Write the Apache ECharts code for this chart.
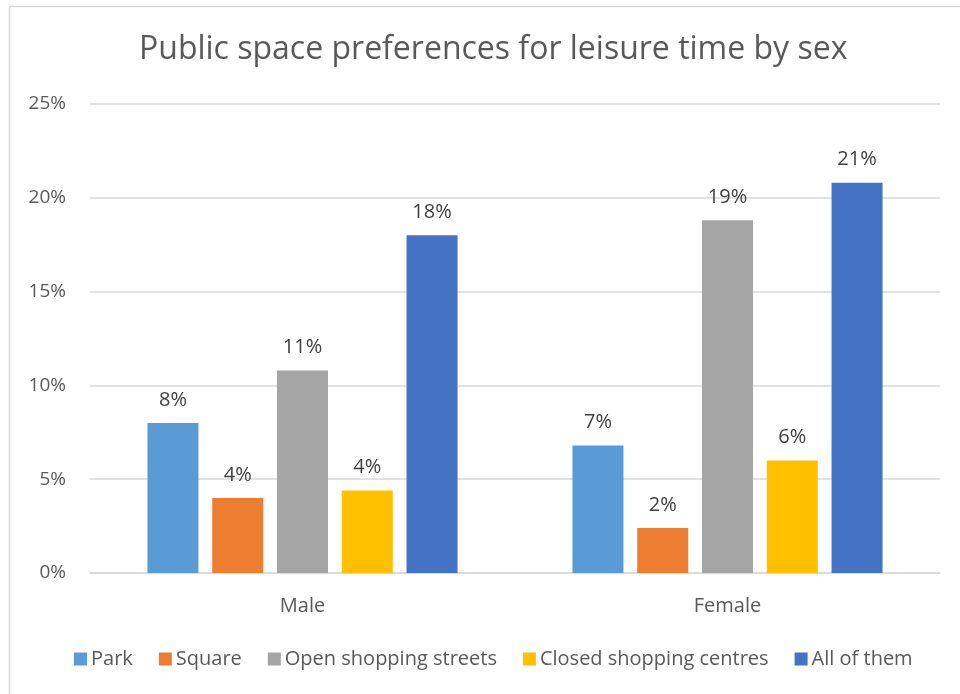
<!DOCTYPE html>
<html>
<head>
<meta charset="utf-8">
<script src="https://cdn.jsdelivr.net/npm/echarts@6/dist/echarts.min.js"></script>
<style>
  html, body { margin: 0; padding: 0; background: #ffffff; }
  #chart { width: 960px; height: 694px; }
</style>
</head>
<body>
<div id="chart"></div>
<script>
// Categories (sex) and the share of respondents per preferred public space, in percent
const categories = ['Male', 'Female'];
const seriesNames = ['Park', 'Square', 'Open shopping streets', 'Closed shopping centres', 'All of them'];
const park = [8.0, 6.8];
const square = [4.0, 2.4];
const openStreets = [10.8, 18.8];
const closedCentres = [4.4, 6.0];
const allOfThem = [18.0, 20.8];
const yTicks = [0, 5, 10, 15, 20, 25];

const colors = ['#5B9BD5', '#ED7D31', '#A5A5A5', '#FFC000', '#4472C4'];
const values = [park, square, openStreets, closedCentres, allOfThem];
const FONT = '"Open Sans", sans-serif';

const chart = echarts.init(document.getElementById('chart'), null, { renderer: 'canvas' });

const series = seriesNames.map((name, i) => ({
  name: name,
  type: 'bar',
  data: values[i],
  barWidth: 51,
  barGap: '27%',
  itemStyle: { color: colors[i] },
  label: {
    show: true,
    position: 'top',
    distance: 13,
    color: '#404040',
    fontFamily: FONT,
    fontSize: 20,
    formatter: p => Math.round(p.value) + '%'
  }
}));

chart.setOption({
  backgroundColor: '#ffffff',
  animation: false,
  color: colors,
  title: {
    text: 'Public space preferences for leisure time by sex',
    left: 134,
    top: 29,
    textStyle: { fontFamily: FONT, fontSize: 32, fontWeight: 'normal', color: '#595959' }
  },
  graphic: [{
    type: 'rect',
    shape: { x: 9.5, y: 6.5, width: 970, height: 700 },
    style: { fill: 'none', stroke: '#d9d9d9', lineWidth: 1.5 },
    silent: true,
    z: -1
  }],
  legend: {
    data: seriesNames,
    bottom: 20,
    left: 69,
    icon: 'rect',
    itemWidth: 13,
    itemHeight: 13,
    itemGap: 26,
    textStyle: { fontFamily: FONT, fontSize: 20, color: '#595959', padding: [0, 0, 0, -1] }
  },
  grid: { left: 90, right: 20, top: 104, bottom: 121, containLabel: false },
  xAxis: {
    type: 'category',
    data: categories,
    axisLine: { lineStyle: { color: '#d9d9d9', width: 1.5 } },
    axisTick: { show: false },
    axisLabel: { fontFamily: FONT, fontSize: 20, color: '#595959', margin: 23 }
  },
  yAxis: {
    type: 'value',
    min: yTicks[0],
    max: yTicks[yTicks.length - 1],
    interval: yTicks[1] - yTicks[0],
    axisLine: { show: false },
    axisTick: { show: false },
    splitLine: { lineStyle: { color: '#d9d9d9', width: 1.5 } },
    axisLabel: { fontFamily: FONT, fontSize: 19, color: '#595959', margin: 24, formatter: '{value}%' }
  },
  series: series
});
</script>
</body>
</html>
